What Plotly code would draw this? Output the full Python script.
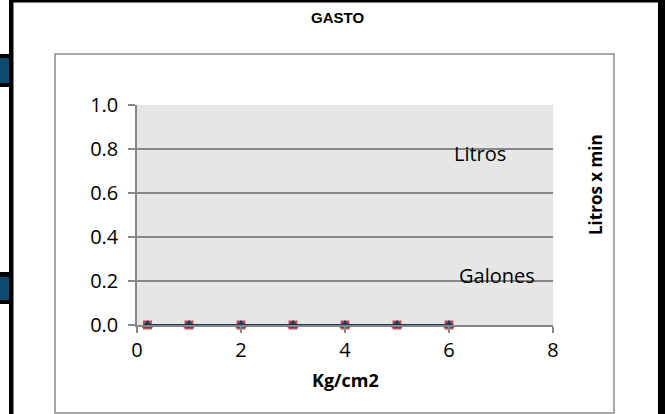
import plotly.graph_objects as go

# ---- data ----
presion_kg_cm2 = [0.2, 1, 2, 3, 4, 5, 6]
litros = [0, 0, 0, 0, 0, 0, 0]
galones = [0, 0, 0, 0, 0, 0, 0]
x_ticks = [0, 2, 4, 6, 8]
y_ticks = [0.0, 0.2, 0.4, 0.6, 0.8, 1.0]
y_tick_text = ["0.0", "0.2", "0.4", "0.6", "0.8", "1.0"]

W, H = 665, 414
PL, PR, PT, PB = 137, 553, 105, 325  # plot area in pixels


def px(x):
    return (x - PL) / (PR - PL)


def py(y):
    return (PB - y) / (PB - PT)


fig = go.Figure()
fig.add_trace(go.Scatter(
    x=presion_kg_cm2, y=litros, name="Litros", mode="lines+markers",
    line=dict(color="#C0504D", width=2),
    marker=dict(symbol="square", size=9, color="#C0504D"),
    cliponaxis=False))
fig.add_trace(go.Scatter(
    x=presion_kg_cm2, y=galones, name="Galones", mode="lines+markers",
    line=dict(color="#1F3864", width=2),
    marker=dict(symbol="triangle-up", size=10, color="#1F3864"),
    cliponaxis=False))

font_main = "Open Sans, Liberation Sans, sans-serif"
axis_col = "#868686"

shapes = []
# chart outer box
shapes.append(dict(type="rect", xref="paper", yref="paper",
                   x0=px(55), x1=px(614), y0=py(54), y1=py(413),
                   line=dict(color="#8c8c8c", width=1.5), fillcolor="rgba(0,0,0,0)", layer="below"))
# page borders (black)
for (x0, x1, y0, y1) in [(9, 13.5, 0, 414), (9, 662, 0, 2.5), (658, 665, 0, 414),
                         (0, 9, 54, 58), (0, 9, 83, 87), (0, 9, 272, 277), (0, 9, 300, 304)]:
    shapes.append(dict(type="rect", xref="paper", yref="paper",
                       x0=px(x0), x1=px(x1), y0=py(y1), y1=py(y0),
                       line=dict(width=0), fillcolor="black"))
for (y0, y1) in [(58, 83), (277, 300)]:
    shapes.append(dict(type="rect", xref="paper", yref="paper",
                       x0=px(0), x1=px(9), y0=py(y1), y1=py(y0),
                       line=dict(width=0), fillcolor="#0E4A6E"))

annotations = [
    dict(text="<b>GASTO</b>", x=px(337), y=py(17), font=dict(family="Arial, Liberation Sans", size=15, color="black")),
    dict(text="Litros", x=px(480), y=py(153), font=dict(family=font_main, size=20, color="black")),
    dict(text="Galones", x=px(497), y=py(275), font=dict(family=font_main, size=20, color="black")),
    dict(text="<b>Kg/cm2</b>", x=px(345), y=py(380), font=dict(family=font_main, size=18, color="black")),
    dict(text="<b>Litros x min</b>", x=px(595), y=py(185), textangle=-90,
         font=dict(family=font_main, size=17, color="black")),
]
for a in annotations:
    a.update(xref="paper", yref="paper", xanchor="center", yanchor="middle", showarrow=False)

fig.update_layout(
    width=W, height=H,
    margin=dict(l=PL, r=W - PR, t=PT, b=H - PB, pad=0),
    paper_bgcolor="white", plot_bgcolor="#E6E6E6",
    showlegend=False,
    shapes=shapes, annotations=annotations,
    xaxis=dict(range=[0, 8], tickvals=x_ticks, showgrid=False, zeroline=False,
               showline=True, linecolor=axis_col, linewidth=1.5,
               ticks="outside", ticklen=6, tickcolor=axis_col, tickwidth=1.5,
               tickfont=dict(family=font_main, size=20, color="black")),
    yaxis=dict(range=[0, 1], tickvals=y_ticks, ticktext=y_tick_text,
               showgrid=True, gridcolor=axis_col, gridwidth=1.5, zeroline=False,
               showline=True, linecolor=axis_col, linewidth=1.5,
               ticks="outside", ticklen=7, tickcolor=axis_col, tickwidth=1.5,
               ticklabelstandoff=6,
               tickfont=dict(family=font_main, size=20, color="black")),
)

fig.write_html("out.html", config={"displayModeBar": False},
               post_script="document.body.style.margin='0';document.body.style.overflow='hidden';")
